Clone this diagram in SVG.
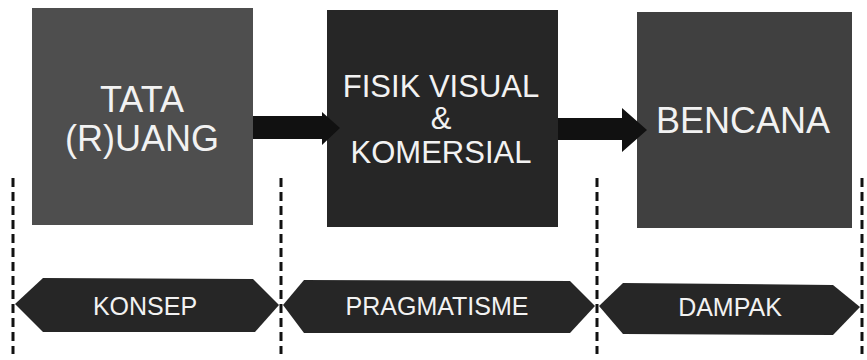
<svg xmlns="http://www.w3.org/2000/svg" width="867" height="360" viewBox="0 0 867 360">
<style>
.box{stroke:none}
.t{font-family:"Liberation Sans",Arial,sans-serif;fill:#f2f2f2;text-anchor:middle}
.big{font-size:36px}
.mid{font-size:31px}
.sm{font-size:25px}
.hex{fill:#262626}
.dash{stroke:#111;stroke-width:3;stroke-dasharray:9 5;fill:none}
.arrow{fill:#111}
</style>
<rect width="867" height="360" fill="#ffffff"/>
<g id="dividers">
<line class="dash" x1="13" y1="178" x2="13" y2="354"/>
<line class="dash" x1="281" y1="178" x2="281" y2="354"/>
<line class="dash" x1="597" y1="178" x2="597" y2="354"/>
<line class="dash" x1="862" y1="178" x2="862" y2="354"/>
</g>
<g id="node-tata-ruang">
<rect class="box" x="32" y="8" width="221" height="217" fill="#4e4e4e"/>
<text class="t big" x="142" y="112">TATA</text>
<text class="t big" x="142" y="151">(R)UANG</text>
</g>
<g id="node-fisik-visual">
<rect class="box" x="327" y="10" width="231" height="217" fill="#262626"/>
<text class="t mid" x="441" y="97">FISIK VISUAL</text>
<text class="t mid" x="441" y="129">&amp;</text>
<text class="t mid" x="441" y="163">KOMERSIAL</text>
</g>
<g id="node-bencana">
<rect class="box" x="637" y="12" width="215" height="216" fill="#404040"/>
<text class="t big" x="743" y="133">BENCANA</text>
</g>
<g id="connectors">
<polygon class="arrow" points="253,116 322,116 322,112 340,128 322,145 322,139 253,139"/>
<polygon class="arrow" points="558,118 622,118 622,108 647,130 622,152 622,140 558,140"/>
</g>
<g id="node-konsep">
<polygon class="hex" points="15,304 43,278 253,279 279,305 255,332 43,332"/>
<text class="t sm" x="145" y="315">KONSEP</text>
</g>
<g id="node-pragmatisme">
<polygon class="hex" points="283,305 304,280 570,281 595,306 570,333 304,333"/>
<text class="t sm" x="437" y="315">PRAGMATISME</text>
</g>
<g id="node-dampak">
<polygon class="hex" points="599,306 623,283 833,285 860,307 833,335 623,334"/>
<text class="t sm" x="730" y="316">DAMPAK</text>
</g>
</svg>
